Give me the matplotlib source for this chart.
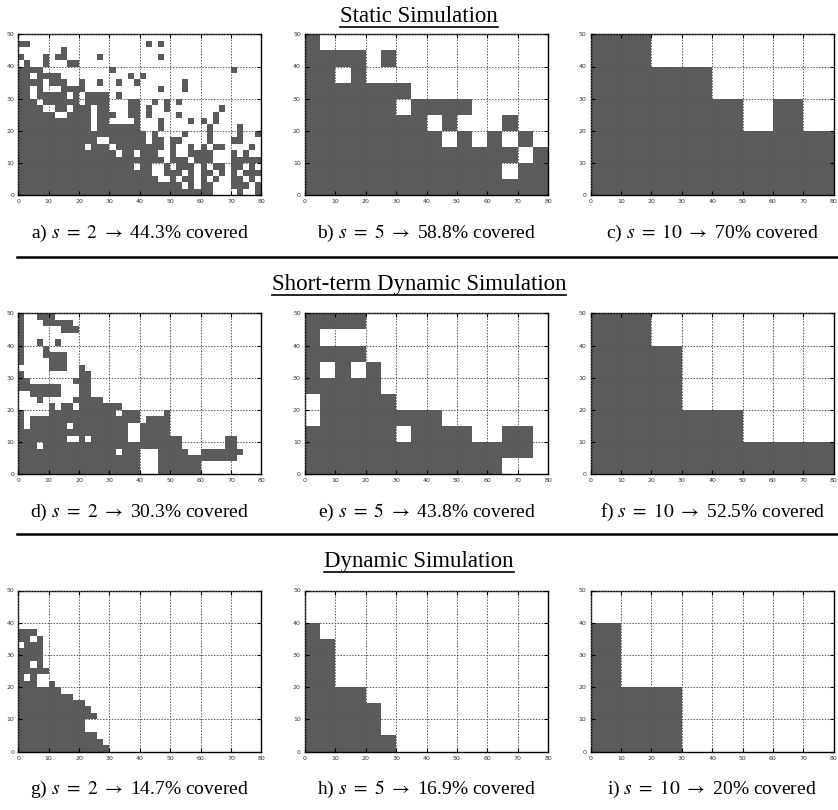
import matplotlib.pyplot as plt
import numpy as np
from matplotlib.colors import ListedColormap
from matplotlib.lines import Line2D

plt.rcParams['font.family'] = ['Liberation Serif', 'DejaVu Serif']
plt.rcParams['mathtext.fontset'] = 'stix'

# '#' = covered cell, '.' = free cell; rows run from the top edge (y=50) down to y=0,
# spaces only group the columns in tens for readability
static_s2 = [
    ".......... .......... .......... ..........",
    "##........ .......... .#.#...... ..........",
    ".......#.. .......... .......... ..........",
    "#...#.##.. ...#...... ...#...... ..........",
    ".#..#...## .......... .......... ..........",
    "####...... .....#.... .......... .....#....",
    "##.####... ........#. #......... ..........",
    "####.###.. #..#..#..# .......#.. ..........",
    "##.#...### #......... ...#...#.. ..........",
    "##.#####.# .####.#... .......... ..........",
    "###.###### .####...## ..#.#.#... ..........",
    "####..##.# ##.##...## .#..#..... ...#......",
    "######..## ##.###..## .#....#... ..#.......",
    "########## ##.##....# ...#....#. #.#.......",
    "########## ##.####### ...#...... .#....#...",
    "########## ########## #.#....#.. .#....#..#",
    "########## ###..##### #.##.##... .#...##...",
    "########## #.###.#### ####.#..#. #.##....#.",
    "########## ######.##. ###..#..## ##...#.#..",
    "########## ########## ####.###.# ##...#####",
    "########## #########. ##..#.###. #.##.##.#.",
    "########## ########## ##..###.#. ##.#.#.###",
    "########## ########## ###..#.##. #.#..##.#.",
    "########## ########## #######.#. ##...###.#",
    "########## ########## ########## ##....#..#",
]
static_s5 = [
    "#...............",
    "####.#..........",
    "##.#............",
    "#######.........",
    "######.####.....",
    "########.#...#..",
    "#########.#.#.#.",
    "##############.#",
    "#############.##",
    "################",
]
static_s10 = [
    "##......",
    "####....",
    "#####.#.",
    "########",
    "########",
]

short_s2 = [
    "#..###.... .......... .......... ..........",
    "#...#####. .......... .......... ..........",
    "#......### .......... .......... ..........",
    "#......... .......... .......... ..........",
    "#..#..#... .......... .......... ..........",
    "#...#..... .......... .......... ..........",
    "#...####.. .......... .......... ..........",
    "#....###.. .......... .......... ..........",
    ".....###.. #......... .......... ..........",
    "#......... ##........ .......... ..........",
    "##.......# ##........ .......... ..........",
    "#######... ##........ .......... ..........",
    "..#####... ##........ .......... ..........",
    "...#.....# ####...... .......... ..........",
    ".....#.##. #######... .......... ..........",
    "#....##### ######.### ....#..... ..........",
    "#.######## ########## .####..... ..........",
    "#.######.# ########.. #####..... ..........",
    "########## ########.. #####..... ..........",
    "########.. #.######.. #######... ....##....",
    "###.###### ########## #######... ....##....",
    "########## ######.### ...#####.. #######...",
    "########## ########## ...####### ######....",
    "########## ########## ...####### ..........",
    "########## ########## ...####### ..........",
]
short_s5 = [
    "####............",
    "#...............",
    "####............",
    "#.#.#...........",
    "#####...........",
    ".#####..........",
    ".########.......",
    "######.####..##.",
    "###############.",
    "#############...",
]
short_s10 = [
    "##......",
    "###.....",
    "###.....",
    "#####...",
    "########",
]

dynamic_s2 = [
    ".......... .......... .......... ..........",
    ".......... .......... .......... ..........",
    ".......... .......... .......... ..........",
    ".......... .......... .......... ..........",
    ".......... .......... .......... ..........",
    ".......... .......... .......... ..........",
    "###....... .......... .......... ..........",
    "##.#...... .......... .......... ..........",
    ".###...... .......... .......... ..........",
    "####...... .......... .......... ..........",
    "####...... .......... .......... ..........",
    "##.#...... .......... .......... ..........",
    "#####..... .......... .......... ..........",
    "#.#....... .......... .......... ..........",
    "###..#.... .......... .......... ..........",
    "#######... .......... .......... ..........",
    "#########. .......... .......... ..........",
    "########## #......... .......... ..........",
    "########## ##........ .......... ..........",
    "########## ###....... .......... ..........",
    "########## #......... .......... ..........",
    "########## #......... .......... ..........",
    "########## ###....... .......... ..........",
    "########## ####...... .......... ..........",
    "########## #####..... .......... ..........",
]
dynamic_s5 = [
    "................",
    "................",
    "#...............",
    "##..............",
    "##..............",
    "##..............",
    "####............",
    "#####...........",
    "#####...........",
    "######..........",
]
dynamic_s10 = [
    "........",
    "#.......",
    "#.......",
    "###.....",
    "###.....",
]

section_titles = ["Static Simulation", "Short-term Dynamic Simulation", "Dynamic Simulation"]
panel_letters = [["a", "b", "c"], ["d", "e", "f"], ["g", "h", "i"]]
cell_sizes = [2, 5, 10]
covered_pct = [["44.3", "58.8", "70"], ["30.3", "43.8", "52.5"], ["14.7", "16.9", "20"]]
grids = [[static_s2, static_s5, static_s10],
         [short_s2, short_s5, short_s10],
         [dynamic_s2, dynamic_s5, dynamic_s10]]

W, H = 838, 810
fig = plt.figure(figsize=(W / 100, H / 100), dpi=100)

col_left = [18.3, 305.0, 590.7]
row_top = [34.3, 313.3, 590.5]
panel_w, panel_h = 243.0, 161.0
title_base = [22, 290, 567]
separators = [257, 534]

cmap = ListedColormap(["white", "#5b5b5b"])


def to_mask(rows):
    return np.array([[c == "#" for c in r.replace(" ", "")] for r in rows[::-1]], dtype=float)


for i in range(3):
    for j in range(3):
        ax = fig.add_axes([col_left[j] / W, 1 - (row_top[i] + panel_h) / H,
                           panel_w / W, panel_h / H])
        s = cell_sizes[j]
        mask = to_mask(grids[i][j])
        xs = np.arange(0, 80 + s, s)
        ys = np.arange(0, 50 + s, s)
        ax.pcolormesh(xs, ys, mask, cmap=cmap, vmin=0, vmax=1, edgecolors="none")
        ax.set_xlim(0, 80)
        ax.set_ylim(0, 50)
        ax.set_xticks(range(0, 81, 10))
        ax.set_yticks(range(0, 51, 10))
        ax.set_axisbelow(False)
        ax.grid(True, color="0.35", linestyle=(0, (1.5, 1.5)), linewidth=0.7)
        ax.tick_params(direction="in", length=3, width=0.8, top=True, right=True,
                       labelsize=4.5, pad=3, colors="black", labelcolor="0.2")
        for lab in ax.get_xticklabels() + ax.get_yticklabels():
            lab.set_family("DejaVu Sans")
        for sp in ax.spines.values():
            sp.set_linewidth(1.0)

        cx = (col_left[j] + panel_w / 2) / W
        cy = 1 - (row_top[i] + panel_h + 38) / H
        fig.text(cx, cy,
                 rf"{panel_letters[i][j]}) $s\ =\ {s}\ \rightarrow$ {covered_pct[i][j]}% covered",
                 ha="center", va="center", fontsize=14)

# section headings with underline
fig.canvas.draw()
renderer = fig.canvas.get_renderer()
for i, title in enumerate(section_titles):
    t = fig.text(0.5, 1 - title_base[i] / H, title, ha="center", va="baseline", fontsize=16.5)
    bb = t.get_window_extent(renderer)
    uy = 1 - (title_base[i] + 5) / H
    fig.add_artist(Line2D([bb.x0 / W, bb.x1 / W], [uy, uy], color="black", linewidth=1.2))

for y in separators:
    fig.add_artist(Line2D([17 / W, 1.0], [1 - y / H, 1 - y / H], color="black", linewidth=1.8))

fig.savefig("out.png", dpi=100)
